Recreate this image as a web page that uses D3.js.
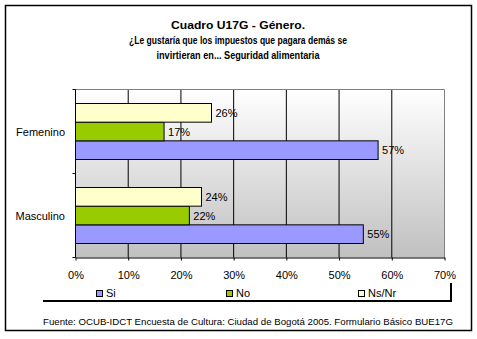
<!DOCTYPE html>
<html><head><meta charset="utf-8">
<script src="https://cdn.jsdelivr.net/npm/d3@7"></script>
<style>body{margin:0;background:#fff}svg{display:block;font-family:"Liberation Sans",Arial,sans-serif}</style>
</head><body><svg id="c" width="477" height="339"></svg>
<script>
const categories = ["Femenino", "Masculino"];
const seriesNames = ["Si", "No", "Ns/Nr"];
const siValues = [57.4, 54.6];
const noValues = [16.8, 21.6];
const nsnrValues = [25.8, 23.9];
const valueLabels = [["57%", "55%"], ["17%", "22%"], ["26%", "24%"]];
const xTicks = [0, 10, 20, 30, 40, 50, 60, 70];
const titleLines = ["Cuadro U17G - Género.", "¿Le gustaría que los impuestos que pagara demás se", "invirtieran en... Seguridad alimentaria"];
const sourceText = "Fuente: OCUB-IDCT Encuesta de Cultura: Ciudad de Bogotá 2005. Formulario Básico BUE17G";
const colors = ["#9999ff", "#99cc00", "#ffffcc"];
const seriesValues = [siValues, noValues, nsnrValues];

const svg = d3.select("#c");
svg.append("rect").attr("x", 5.5).attr("y", 5.5).attr("width", 466).attr("height", 325)
  .attr("fill", "#fff").attr("stroke", "#000").attr("stroke-width", 1.5);

const titleW = [134, 218, 163];
titleLines.forEach((t, i) => {
  svg.append("text").attr("x", 238).attr("y", 28.5 + i * 15).attr("text-anchor", "middle")
    .attr("font-size", 11).attr("font-weight", "bold").attr("textLength", titleW[i])
    .attr("lengthAdjust", "spacingAndGlyphs").text(t);
});

const pL = 75.5, pR = 444.5, pT = 89.5, pB = 257.5;
const x = d3.scaleLinear().domain([0, 70]).range([pL, pR]);
const y = d3.scaleBand().domain(categories).range([pT, pB]);
const inner = d3.scaleBand().domain([2, 1, 0]).range([0, y.bandwidth()]).paddingOuter(0.75).paddingInner(0);

const defs = svg.append("defs");
const g = defs.append("linearGradient").attr("id", "bg").attr("x1", 0).attr("y1", 0).attr("x2", 0).attr("y2", 1);
g.append("stop").attr("offset", "0%").attr("stop-color", "#ffffff");
g.append("stop").attr("offset", "100%").attr("stop-color", "#c0c0c0");
svg.append("rect").attr("x", pL).attr("y", pT).attr("width", pR - pL).attr("height", pB - pT)
  .attr("fill", "url(#bg)");

svg.append("g").selectAll("line").data(xTicks.filter(d => d > 0 && d < 70)).join("line")
  .attr("x1", d => x(d)).attr("x2", d => x(d)).attr("y1", pT).attr("y2", pB)
  .attr("stroke", "#000").attr("stroke-width", 1);
svg.append("path").attr("d", `M${pL},${pT}H${pR}V${pB}`).attr("fill", "none").attr("stroke", "#808080");

seriesValues.forEach((vals, s) => {
  svg.append("g").selectAll("rect").data(categories).join("rect")
    .attr("x", pL)
    .attr("y", (c) => y(c) + inner(s))
    .attr("width", (c, i) => x(vals[i]) - pL)
    .attr("height", inner.bandwidth())
    .attr("fill", colors[s]).attr("stroke", "#000").attr("stroke-width", 1);
  svg.append("g").selectAll("text").data(categories).join("text")
    .attr("x", (c, i) => x(vals[i]) + 4)
    .attr("y", (c) => y(c) + inner(s) + inner.bandwidth() / 2 + 4)
    .attr("font-size", 11).text((c, i) => valueLabels[s][i]);
});

const xAxis = d3.axisBottom(x).tickValues(xTicks).tickFormat(d => d + "%").tickSize(3).tickSizeOuter(0);
const gx = svg.append("g").attr("transform", `translate(0,${pB})`).call(xAxis);
gx.select(".domain").attr("stroke", "#000");
gx.selectAll("text").attr("font-size", 11).attr("font-family", "Liberation Sans, Arial").attr("fill", "#000").attr("y", 14);
gx.selectAll(".tick line").attr("stroke", "#000");

svg.append("line").attr("x1", pL).attr("x2", pL).attr("y1", pT).attr("y2", pB).attr("stroke", "#000");
const yTickPos = [pT, pT + y.bandwidth(), pB];
svg.append("g").selectAll("line").data(yTickPos).join("line")
  .attr("x1", pL - 3).attr("x2", pL).attr("y1", d => d).attr("y2", d => d).attr("stroke", "#000");
svg.append("g").selectAll("text").data(categories).join("text")
  .attr("x", 65).attr("y", c => y(c) + y.bandwidth() / 2 + 4).attr("text-anchor", "end")
  .attr("font-size", 11).text(c => c);

svg.append("path").attr("d", "M43,301H451V283").attr("fill", "none").attr("stroke", "#000").attr("stroke-width", 2);
const legX = [96, 226, 358];
seriesNames.forEach((n, i) => {
  svg.append("rect").attr("x", legX[i] + 0.5).attr("y", 290.5).attr("width", 6).attr("height", 6)
    .attr("fill", colors[i]).attr("stroke", "#000");
  svg.append("text").attr("x", legX[i] + 10).attr("y", 297).attr("font-size", 11).text(n);
});

svg.append("text").attr("x", 43).attr("y", 325).attr("font-size", 9.5)
  .attr("textLength", 410).attr("lengthAdjust", "spacingAndGlyphs").text(sourceText);
</script></body></html>
